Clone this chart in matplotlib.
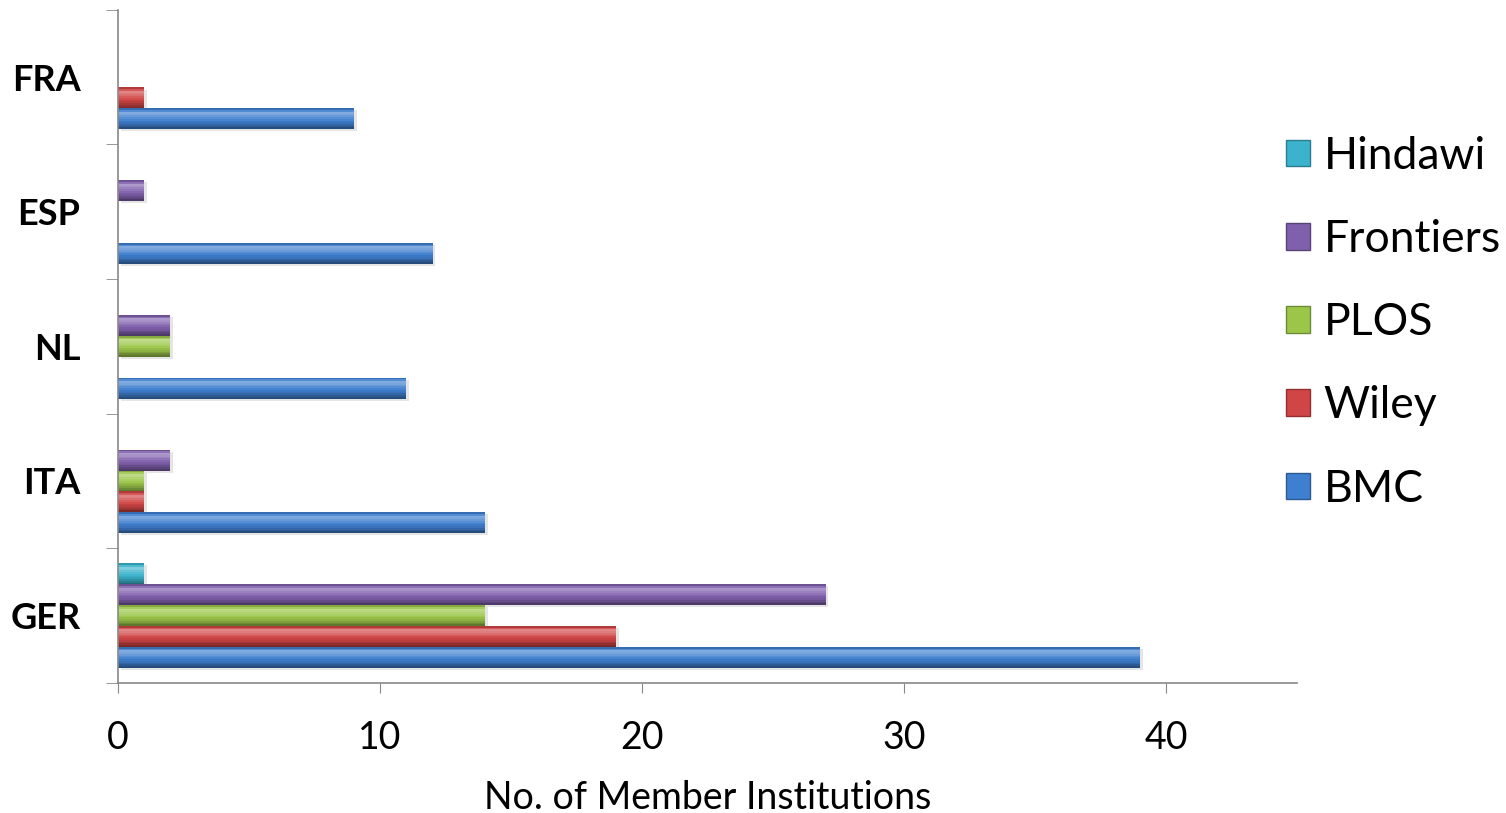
import numpy as np
import matplotlib.pyplot as plt
import matplotlib.colors as mcolors
from matplotlib.patches import Patch

plt.rcParams['font.family'] = ['Lato', 'DejaVu Sans']

# Daten
countries = ['GER', 'ITA', 'NL', 'ESP', 'FRA']
publishers = ['BMC', 'Wiley', 'PLOS', 'Frontiers', 'Hindawi']
bmc = [39, 14, 11, 12, 9]
wiley = [19, 1, 0, 0, 1]
plos = [14, 1, 2, 0, 0]
frontiers = [27, 2, 2, 1, 0]
hindawi = [1, 0, 0, 0, 0]
series = [bmc, wiley, plos, frontiers, hindawi]
colors = ['#3f7fcf', '#d04545', '#9cc64a', '#8060ad', '#3bb3cc']


def shade(color, factor):
    """factor > 0 heller, < 0 dunkler"""
    rgb = np.array(mcolors.to_rgb(color))
    if factor > 0:
        rgb = rgb + (1 - rgb) * factor
    else:
        rgb = rgb * (1 + factor)
    return rgb


fig = plt.figure(figsize=(15.06, 8.13), dpi=100)
ax = fig.add_axes([0.0784, 0.160, 0.783, 0.828])

y = np.arange(len(countries))
h = 0.155
# Verlauf ueber die Balkenhoehe: oben hell, unten dunkel
n_bands = 12
band_shades = np.concatenate([np.linspace(-0.15, 0.35, 3), np.linspace(0.3, -0.05, 5),
                              np.linspace(-0.1, -0.4, 4)])
for i, (vals, col) in enumerate(zip(series, colors)):
    pos = y + (i - 2) * h
    # Schatten
    ax.barh(pos - 0.015, vals, height=h, left=0.1, color='#000000', alpha=0.10, zorder=1)
    bh = h / n_bands
    for k, f in enumerate(band_shades):
        off = h / 2 - bh * (k + 0.5)
        ax.barh(pos + off, vals, height=bh * 1.05, color=shade(col, f), zorder=2)

ax.set_xlim(0, 45)
ax.set_ylim(-0.5, len(countries) - 0.5)
ax.set_xticks([0, 10, 20, 30, 40])
ax.tick_params(axis='x', labelsize=27, length=7, color='#888888', pad=20)

ax.set_yticks(y)
ax.set_yticklabels(countries, fontweight='bold')
ax.set_yticks(np.arange(-0.5, len(countries)), minor=True)
ax.tick_params(axis='y', which='major', length=0, labelsize=26, pad=27)
ax.tick_params(axis='y', which='minor', length=9, color='#888888')

for s in ['top', 'right']:
    ax.spines[s].set_visible(False)
for s in ['left', 'bottom']:
    ax.spines[s].set_color('#888888')
    ax.spines[s].set_linewidth(1.2)

ax.set_xlabel('No. of Member Institutions', fontsize=27, labelpad=17)

handles = [Patch(facecolor=c, edgecolor=shade(c, -0.3)) for c in colors][::-1]
fig.legend(handles, publishers[::-1], loc='center left', bbox_to_anchor=(0.848, 0.603),
           frameon=False, fontsize=32, handlelength=0.55, handleheight=0.55,
           handletextpad=0.3, labelspacing=0.95, borderaxespad=0, borderpad=0.2)

fig.savefig('out.png', dpi=100)
